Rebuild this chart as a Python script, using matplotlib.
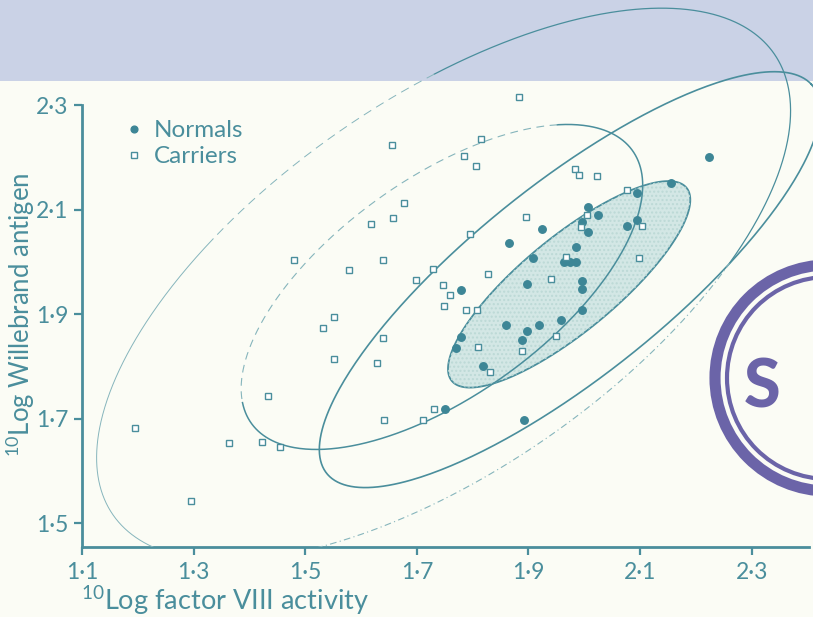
"""Factor VIII activity vs Willebrand antigen: normals and carriers."""
import matplotlib
import matplotlib.pyplot as plt
import numpy as np
from matplotlib.patches import Circle, Polygon, Rectangle

matplotlib.use("Agg")
plt.rcParams["font.family"] = ["Lato", "DejaVu Sans"]
plt.rcParams["mathtext.fontset"] = "custom"
plt.rcParams["mathtext.rm"] = "Lato"

# --- data (log10 units) ---
normals_x = [2.224, 2.156, 2.095, 2.007, 2.025, 1.996, 2.007, 2.077, 2.095, 1.924,
             1.865, 1.985, 1.908, 1.964, 1.975, 1.985, 1.996, 1.996, 1.897, 1.779,
             1.996, 1.958, 1.860, 1.919, 1.897, 1.779, 1.770, 1.889, 1.819, 1.751, 1.892]
normals_y = [2.200, 2.151, 2.131, 2.105, 2.089, 2.076, 2.057, 2.068, 2.080, 2.062,
             2.036, 2.028, 2.007, 1.999, 1.999, 1.999, 1.963, 1.949, 1.957, 1.946,
             1.907, 1.888, 1.879, 1.879, 1.867, 1.857, 1.836, 1.850, 1.800, 1.718, 1.698]

carriers_x = [1.883, 1.656, 1.815, 1.785, 1.806, 1.984, 1.991, 2.023, 1.677, 1.657,
              1.618, 1.896, 1.795, 2.077, 2.005, 1.994, 2.104, 1.480, 1.639, 1.578,
              1.729, 1.699, 1.828, 1.967, 2.098, 1.747, 1.760, 1.940, 1.749, 1.788,
              1.808, 1.810, 1.949, 1.889, 1.831, 1.552, 1.532, 1.639, 1.552, 1.629,
              1.433, 1.641, 1.711, 1.731, 1.195, 1.363, 1.423, 1.455, 1.295]
carriers_y = [2.315, 2.223, 2.235, 2.202, 2.183, 2.177, 2.166, 2.164, 2.112, 2.084,
              2.072, 2.085, 2.053, 2.137, 2.089, 2.066, 2.068, 2.003, 2.003, 1.984,
              1.986, 1.965, 1.976, 2.009, 2.007, 1.955, 1.936, 1.967, 1.915, 1.907,
              1.907, 1.838, 1.859, 1.829, 1.789, 1.894, 1.873, 1.854, 1.815, 1.806,
              1.744, 1.697, 1.698, 1.718, 1.683, 1.654, 1.656, 1.645, 1.543]

# ellipses: centre, semi-axes, angle of major axis (deg)
normals_inner = ((1.973, 1.957), 0.280, 0.088, 41.7)
normals_outer = ((1.974, 1.966), 0.572, 0.180, 40.8)
carriers_inner = ((1.745, 1.952), 0.430, 0.203, 38.4)
carriers_outer = ((1.748, 1.957), 0.739, 0.346, 37.7)

x_ticks = [1.1, 1.3, 1.5, 1.7, 1.9, 2.1, 2.3]
y_ticks = [1.5, 1.7, 1.9, 2.1, 2.3]

TEAL = "#4a8e9c"
DOT = "#3d8696"
PALE = "#86b5bc"
PAGE = "#fbfcf5"
BAND = "#cad2e6"
PURPLE = "#6b64a8"


def ellipse_xy(spec, t0=0.0, t1=2 * np.pi, n=400):
    (cx, cy), a, b, ang = spec
    t = np.linspace(t0, t1, n)
    th = np.radians(ang)
    x = cx + a * np.cos(th) * np.cos(t) - b * np.sin(th) * np.sin(t)
    y = cy + a * np.sin(th) * np.cos(t) + b * np.cos(th) * np.sin(t)
    return x, y


fig = plt.figure(figsize=(8.13, 6.17), dpi=100, facecolor=PAGE)

# page decoration behind the chart: the coloured band at the top
back = fig.add_axes([0, 0, 1, 1], zorder=-5)
back.set_xlim(0, 813)
back.set_ylim(617, 0)
back.axis("off")
back.add_patch(Rectangle((0, 0), 813, 81, color=BAND, lw=0))

ax = fig.add_axes([82 / 813, 70 / 617, 731 / 813, 547 / 617], zorder=1)
ax.set_facecolor("none")
ax.set_xlim(1.1, 2.41)
ax.set_ylim(1.4545, 2.501)

# shaded normal ellipse
sx, sy = ellipse_xy(normals_inner)
ax.add_patch(Polygon(np.column_stack([sx, sy]), closed=True, facecolor="#d3e7e5",
                     edgecolor=TEAL, lw=1.3, zorder=2))
ax.add_patch(Polygon(np.column_stack([sx, sy]), closed=True, facecolor="none",
                     edgecolor="#bcd9d6", hatch="....", lw=0, zorder=2))

# outer normal ellipse
ax.plot(*ellipse_xy(normals_outer), color=TEAL, lw=1.2, zorder=3)

# inner carrier ellipse: solid on the right, broken on the upper left
ax.plot(*ellipse_xy(carriers_inner, 2.9 - 2 * np.pi, 0.6), color=TEAL, lw=1.1, zorder=3)
ax.plot(*ellipse_xy(carriers_inner, 0.6, 2.9), color=PALE, lw=0.8,
        dashes=(7, 5), zorder=3)

# outer carrier ellipse
ax.plot(*ellipse_xy(carriers_outer, -0.95, 1.25), color=TEAL, lw=0.9, zorder=3)
ax.plot(*ellipse_xy(carriers_outer, 1.25, 1.95), color=PALE, lw=0.7,
        dashes=(9, 6), zorder=3)
ax.plot(*ellipse_xy(carriers_outer, 1.95, 3.9), color=PALE, lw=0.7, zorder=3)
ax.plot(*ellipse_xy(carriers_outer, 3.9, 2 * np.pi - 0.95), color=PALE, lw=0.8,
        dashes=(6, 3, 1, 3), zorder=3)

ax.plot(normals_x, normals_y, "o", ms=5.4, color=DOT, mec=DOT, zorder=5,
        label="Normals")
ax.plot(carriers_x, carriers_y, "s", ms=4.2, mfc="white", mec=TEAL, mew=1.0,
        zorder=5, label="Carriers")

for side in ("top", "right"):
    ax.spines[side].set_visible(False)
for side in ("left", "bottom"):
    ax.spines[side].set_color(TEAL)
    ax.spines[side].set_linewidth(2.0)
ax.spines["left"].set_bounds(1.4545, 2.3)
ax.spines["bottom"].set_bounds(1.1, 2.403)

ax.set_xticks(x_ticks)
ax.set_yticks(y_ticks)
ax.set_xticklabels([f"{v:.1f}".replace(".", "·") for v in x_ticks])
ax.set_yticklabels([f"{v:.1f}".replace(".", "·") for v in y_ticks])
ax.tick_params(axis="both", colors=TEAL, labelcolor=TEAL, labelsize=16.5,
               width=1.6, length=6, direction="out")
ax.tick_params(axis="x", pad=5)
ax.tick_params(axis="y", pad=4)

ax.set_xlabel("$^{\\mathregular{10}}$Log factor VIII activity", fontsize=19.5,
              color=TEAL, ha="left", va="center")
ax.xaxis.set_label_coords(-0.002, -0.097)
ax.set_ylabel("$^{\\mathregular{10}}$Log Willebrand antigen", fontsize=18.5,
              color=TEAL, va="center")
ax.yaxis.set_label_coords(-0.085, 0.424)

ax.legend(loc="upper left", bbox_to_anchor=(0.045, 0.802), frameon=False,
          fontsize=17.5, labelcolor=TEAL, handlelength=0.6, handletextpad=0.5,
          borderpad=0, labelspacing=0.2, markerscale=0.9)

# page decoration: purple stamp on the right edge
deco = fig.add_axes([0, 0, 1, 1], zorder=10)
deco.set_xlim(0, 813)
deco.set_ylim(617, 0)
deco.axis("off")
deco.patch.set_visible(False)
deco.add_patch(Circle((828, 378), 113, fill=False, ec=PURPLE, lw=8.0))
deco.add_patch(Circle((828, 378), 101.0, fill=False, ec=PURPLE, lw=3.0))
deco.text(762, 389, "S", fontsize=48, fontweight="black", color=PURPLE,
          ha="center", va="center")

fig.savefig("out.png", dpi=100, facecolor=PAGE)
